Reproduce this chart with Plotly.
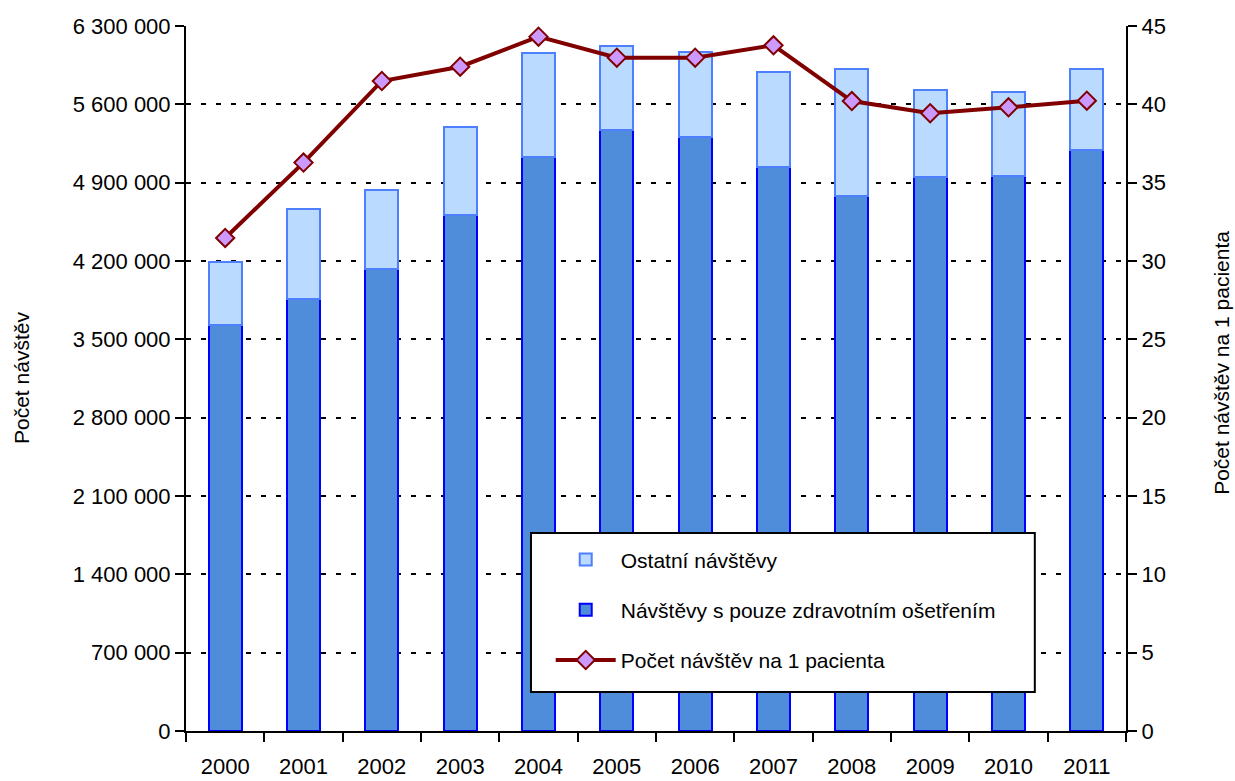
import plotly.graph_objects as go

years = ["2000", "2001", "2002", "2003", "2004", "2005", "2006", "2007", "2008", "2009", "2010", "2011"]
zdravotni = [3628000, 3863000, 4132000, 4611000, 5127000, 5371000, 5311000, 5037000, 4784000, 4954000, 4962000, 5192000]
ostatni = [560000, 805000, 703000, 789000, 929000, 750000, 759000, 849000, 1129000, 771000, 745000, 721000]
na_pacienta = [31.47, 36.28, 41.49, 42.40, 44.32, 42.98, 42.98, 43.77, 40.21, 39.43, 39.81, 40.23]

left_tickvals = [0, 700000, 1400000, 2100000, 2800000, 3500000, 4200000, 4900000, 5600000, 6300000]
left_ticktext = ["0", "700 000", "1 400 000", "2 100 000", "2 800 000", "3 500 000",
                 "4 200 000", "4 900 000", "5 600 000", "6 300 000"]
right_tickvals = [0, 5, 10, 15, 20, 25, 30, 35, 40, 45]

FONT = "Liberation Sans, Arial, sans-serif"

fig = go.Figure()
fig.add_trace(go.Bar(
    x=years, y=zdravotni, name="Návštěvy s pouze zdravotním ošetřením",
    marker=dict(color="#4F8DDA", line=dict(color="#0000FF", width=2)),
    width=0.425, legendrank=2, legendgroup="b",
))
fig.add_trace(go.Bar(
    x=years, y=ostatni, name="Ostatní návštěvy",
    marker=dict(color="#BADAFF", line=dict(color="#4D7FFF", width=2)),
    width=0.425, legendrank=1, legendgroup="a",
))
fig.add_trace(go.Scatter(
    x=years, y=na_pacienta, name="Počet návštěv na 1 pacienta", yaxis="y2",
    mode="lines+markers",
    line=dict(color="#800000", width=4),
    marker=dict(symbol="diamond", size=14, color="#CC99FF", line=dict(color="#800000", width=2)),
    legendrank=3, legendgroup="c",
))

fig.update_layout(
    width=1235, height=781,
    margin=dict(l=186, r=109, t=26, b=50),
    paper_bgcolor="white", plot_bgcolor="white",
    barmode="stack",
    font=dict(family=FONT, size=22, color="black"),
    xaxis=dict(
        type="category", range=[-0.5, 11.5], showline=True, linecolor="black", linewidth=2,
        ticks="outside", tickson="boundaries", ticklen=9, tickwidth=2, tickcolor="black",
        ticklabelstandoff=15, showgrid=False, automargin=False,
        tickfont=dict(size=22),
    ),
    yaxis=dict(
        range=[0, 6300000], tickvals=left_tickvals, ticktext=left_ticktext,
        showline=True, linecolor="black", linewidth=2,
        ticks="outside", ticklen=9, tickwidth=2, tickcolor="black",
        showgrid=True, gridcolor="black", gridwidth=2, griddash="5px,10px",
        zeroline=False, automargin=False, tickfont=dict(size=22),
    ),
    yaxis2=dict(
        range=[0, 45], tickvals=right_tickvals, overlaying="y", side="right",
        showline=True, linecolor="black", linewidth=2,
        ticks="outside", ticklen=9, tickwidth=2, tickcolor="black",
        showgrid=False, zeroline=False, automargin=False, tickfont=dict(size=22),
    ),
    legend=dict(
        x=0.388, y=0.272, xanchor="left", yanchor="top",
        bgcolor="rgba(0,0,0,0)", borderwidth=0,
        font=dict(size=21), traceorder="grouped", tracegroupgap=20,
        itemwidth=60,
    ),
    showlegend=True,
    shapes=[
        dict(type="rect", xref="paper", yref="paper", x0=0.367, x1=0.903, y0=0.0553, y1=0.281,
             fillcolor="white", line=dict(color="black", width=2), layer="above"),
    ],
    annotations=[
        dict(text="Počet návštěv", xref="paper", yref="paper", x=-0.175, y=0.5,
             textangle=-90, showarrow=False, font=dict(size=21),
             xanchor="center", yanchor="middle"),
        dict(text="Počet návštěv na 1 pacienta", xref="paper", yref="paper",
             x=1.102, y=0.522, textangle=-90, showarrow=False, font=dict(size=21),
             xanchor="center", yanchor="middle"),
    ],
)

fig.write_html("out.html", config={"displayModeBar": False},
               post_script="document.body.style.margin='0';document.body.style.overflow='hidden';")
